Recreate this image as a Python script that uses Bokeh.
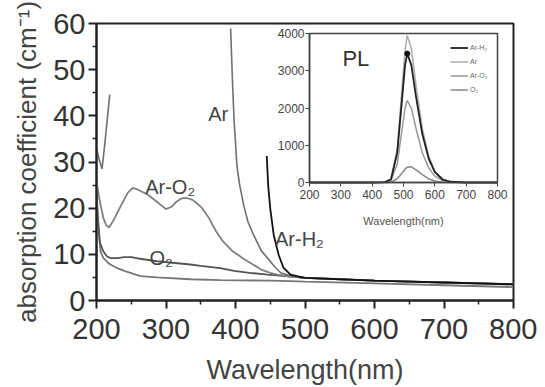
from bokeh.plotting import figure
from bokeh.models import Range1d, LinearAxis, FixedTicker, Legend, LegendItem
from bokeh.embed import file_html
from bokeh.resources import INLINE
from bokeh.core.properties import value

nan = float("nan")

# ---------------- main absorption data ----------------
ar_o2_wl = [200, 203, 206, 210, 214, 218, 225, 235, 245, 252, 260, 275, 290, 300, 308, 315, 322, 330, 338, 345,
            352, 362, 372, 382, 395, 412, 425, 437, 450, 460, 480, 500, 550, 600, 650, 700, 750, 800]
ar_o2 = [26, 23, 20.6, 17.8, 16.3, 15.8, 17.5, 20.5, 23.3, 24.4, 24.0, 22.8, 21.0, 19.8, 20.3, 21.4, 22.1, 22.2,
         21.8, 21.0, 20.0, 17.8, 15.0, 12.8, 10.8, 9.0, 7.8, 6.7, 6.0, 5.6, 5.2, 4.9, 4.6, 4.3, 4.1, 3.9, 3.7, 3.5]

o2_wl = [200, 202, 205, 210, 215, 220, 230, 240, 250, 260, 287, 335, 350, 378, 398, 420, 446, 480, 500, 600, 700, 800]
o2 = [24, 18, 12.5, 10.6, 9.6, 9.2, 9.2, 9.4, 9.4, 9.1, 8.5, 7.8, 7.5, 7.0, 6.4, 6.0, 5.6, 5.2, 4.9, 4.3, 3.9, 3.5]

base_wl = [200, 203, 206, 210, 215, 220, 230, 240, 263, 287, 335, 378, 450, 479, 500, 600, 700, 800]
base = [22, 15, 10.5, 9.2, 8.4, 7.8, 7.0, 6.4, 5.3, 5.0, 4.6, 4.4, 4.3, 4.2, 4.1, 3.7, 3.3, 2.9]

ar_wl = [200, 204, 208, 212, 216, 219, 220, 393, 396, 398, 402, 406, 412, 418, 426, 437, 446, 457, 465, 480,
         500, 550, 600, 650, 700, 750, 800]
ar = [33, 30.5, 28.5, 34, 40, 44.6, nan, 58.9, 46, 39, 29.2, 25, 20.5, 17.0, 14.2, 10.8, 9.2, 7.2, 6.0, 5.3,
      4.9, 4.6, 4.3, 4.1, 3.9, 3.7, 3.5]

ar_h2_wl = [445, 447, 450, 455, 462, 469, 479, 490, 500, 550, 600, 650, 700, 750, 800]
ar_h2 = [31.3, 25, 19.9, 14.2, 9.9, 7.1, 5.6, 5.2, 4.9, 4.6, 4.3, 4.1, 3.9, 3.7, 3.5]

x_ticks = [200, 300, 400, 500, 600, 700, 800]
x_minor = [250, 350, 450, 550, 650, 750]
y_ticks = [0, 10, 20, 30, 40, 50, 60]
y_minor = [5, 15, 25, 35, 45, 55]

labels = ["Ar", "Ar-O\u2082", "O\u2082", "Ar-H\u2082"]
label_x = [375, 306, 293, 492]
label_y = [40.3, 24.6, 9.3, 13.3]

x_title = "Wavelength(nm)"
y_title = "absorption coefficient (cm\u207b\u00b9)"

# ---------------- inset PL data ----------------
pl_wl = [200, 300, 400, 440, 460, 480, 495, 505, 512, 525, 540, 560, 580, 600, 625, 650, 700, 800]
pl_ar_h2 = [0, 0, 0, 10, 80, 800, 2200, 3150, 3460, 3150, 2300, 1300, 650, 280, 80, 20, 0, 0]
pl_ar = [0, 0, 0, 10, 90, 900, 2500, 3550, 3950, 3600, 2600, 1450, 720, 300, 90, 20, 0, 0]
pl_ar_o2 = [0, 0, 0, 5, 50, 500, 1400, 2000, 2200, 2000, 1450, 800, 400, 170, 50, 10, 0, 0]
pl_o2 = [0, 0, 0, 2, 10, 100, 250, 360, 410, 420, 340, 210, 100, 40, 10, 0, 0, 0]
pl_x_ticks = [200, 300, 400, 500, 600, 700, 800]
pl_y_ticks = [0, 1000, 2000, 3000, 4000]

# ---------------- layout ----------------
W, H = 537, 387
FL, FR, FT, FB = 96, 513, 23, 300   # frame in figure px
IL, IR, IT, IB = 309, 497, 33, 182  # inset box in figure px

p = figure(width=W, height=H, output_backend="svg", toolbar_location=None,
           x_range=Range1d(200, 800), y_range=Range1d(0, 60),
           min_border_left=FL, min_border_right=W - FR, min_border_top=FT, min_border_bottom=H - FB)
p.grid.visible = False
p.outline_line_color = "#222"
p.outline_line_width = 2
p.background_fill_color = "white"

# inset ranges mapped onto sub-rectangle of the frame
fw, fh = FR - FL, FB - FT
sx = (IR - IL) / 600.0
ix0 = 200 - (IL - FL) / sx
ix1 = ix0 + fw / sx
sy = (IB - IT) / 4000.0
iy0 = 0 - (FB - IB) / sy
iy1 = iy0 + fh / sy
p.extra_x_ranges = {"ix": Range1d(ix0, ix1)}
p.extra_y_ranges = {"iy": Range1d(iy0, iy1)}

font = value("Liberation Sans")

p.line(base_wl, base, line_color="#777", line_width=1.8)
p.line(o2_wl, o2, line_color="#555", line_width=1.8)
p.line(ar_o2_wl, ar_o2, line_color="#808080", line_width=1.8)
p.line(ar_wl, ar, line_color="#707070", line_width=1.6)
p.line(ar_h2_wl, ar_h2, line_color="#111", line_width=1.8)

p.text(x=label_x, y=label_y, text=labels, text_align="center", text_baseline="middle",
       text_font=font, text_font_size="20px", text_color="#444")

# axes main
for ax in (p.xaxis[0], p.yaxis[0]):
    ax.axis_line_width = 2
    ax.axis_line_color = "#222"
    ax.major_tick_line_width = 2
    ax.major_tick_line_color = "#222"
    ax.minor_tick_line_color = "#222"
    ax.minor_tick_line_width = 1.5
    ax.major_tick_out = 8
    ax.major_tick_in = 0
    ax.minor_tick_out = 4
    ax.minor_tick_in = 0
    ax.major_label_text_font = "Liberation Sans"
    ax.major_label_text_font_size = "29px"
    ax.major_label_text_color = "#333"
    ax.axis_label_text_font = "Liberation Sans"
    ax.axis_label_text_font_style = "normal"
    ax.axis_label_text_color = "#444"
p.xaxis.ticker = FixedTicker(ticks=x_ticks, minor_ticks=x_minor)
p.yaxis.ticker = FixedTicker(ticks=y_ticks, minor_ticks=y_minor)
p.xaxis.axis_label = x_title
p.xaxis.axis_label_text_font_size = "27px"
p.xaxis.major_label_standoff = 10
p.xaxis.axis_label_standoff = 13
p.yaxis.axis_label = y_title
p.yaxis.axis_label_text_font_size = "26px"
p.yaxis.major_label_standoff = 3
p.yaxis.axis_label_standoff = 8

# inset
p.quad(left=[pl_x_ticks[0]], right=[pl_x_ticks[-1]], bottom=[pl_y_ticks[0]], top=[pl_y_ticks[-1]],
       x_range_name="ix", y_range_name="iy", fill_color="white", line_color="#444", line_width=1.5)
r_o2 = p.line(pl_wl, pl_o2, x_range_name="ix", y_range_name="iy", line_color="#888", line_width=1.5)
r_aro2 = p.line(pl_wl, pl_ar_o2, x_range_name="ix", y_range_name="iy", line_color="#999", line_width=1.5)
r_ar = p.line(pl_wl, pl_ar, x_range_name="ix", y_range_name="iy", line_color="#aaa", line_width=1.5)
r_arh2 = p.line(pl_wl, pl_ar_h2, x_range_name="ix", y_range_name="iy", line_color="#222", line_width=1.8)
k = pl_ar_h2.index(max(pl_ar_h2))
p.scatter([pl_wl[k]], [pl_ar_h2[k]], x_range_name="ix", y_range_name="iy", size=5, color="#111")

p.text(x=[348], y=[3340], text=["PL"], x_range_name="ix", y_range_name="iy", text_align="center",
       text_baseline="middle", text_font=font, text_font_size="22px", text_color="#333")

iax_y = LinearAxis(x_range_name="ix", y_range_name="iy", fixed_location=pl_x_ticks[0],
                   bounds=(pl_y_ticks[0], pl_y_ticks[-1]), ticker=FixedTicker(ticks=pl_y_ticks))
iax_x = LinearAxis(x_range_name="ix", y_range_name="iy", fixed_location=pl_y_ticks[0],
                   bounds=(pl_x_ticks[0], pl_x_ticks[-1]), ticker=FixedTicker(ticks=pl_x_ticks),
                   axis_label=x_title)
for ax in (iax_x, iax_y):
    ax.axis_line_color = "#444"
    ax.axis_line_width = 1.5
    ax.major_tick_line_color = "#444"
    ax.major_tick_out = 4
    ax.major_tick_in = 0
    ax.minor_tick_out = 0
    ax.minor_tick_in = 0
    ax.major_label_text_font = "Liberation Sans"
    ax.major_label_text_font_size = "12px"
    ax.major_label_text_color = "#444"
    ax.major_label_standoff = 1
iax_x.major_label_standoff = 3
iax_x.axis_label_text_font = "Liberation Sans"
iax_x.axis_label_text_font_size = "11px"
iax_x.axis_label_text_font_style = "normal"
iax_x.axis_label_text_color = "#555"
iax_x.axis_label_standoff = 13
p.add_layout(iax_y, "left")
p.add_layout(iax_x, "below")

legend = Legend(items=[LegendItem(label="Ar-H\u2082", renderers=[r_arh2]),
                       LegendItem(label="Ar", renderers=[r_ar]),
                       LegendItem(label="Ar-O\u2082", renderers=[r_aro2]),
                       LegendItem(label="O\u2082", renderers=[r_o2])],
                location=(354, 204), orientation="vertical")
legend.background_fill_alpha = 0
legend.border_line_alpha = 0
legend.label_text_font = "Liberation Sans"
legend.label_text_font_size = "7px"
legend.label_text_color = "#666"
legend.glyph_width = 18
legend.glyph_height = 13
legend.label_height = 13
legend.label_standoff = 2
legend.spacing = 1
legend.padding = 0
legend.margin = 0
p.add_layout(legend)

open("out.html", "w").write(file_html(p, INLINE))
